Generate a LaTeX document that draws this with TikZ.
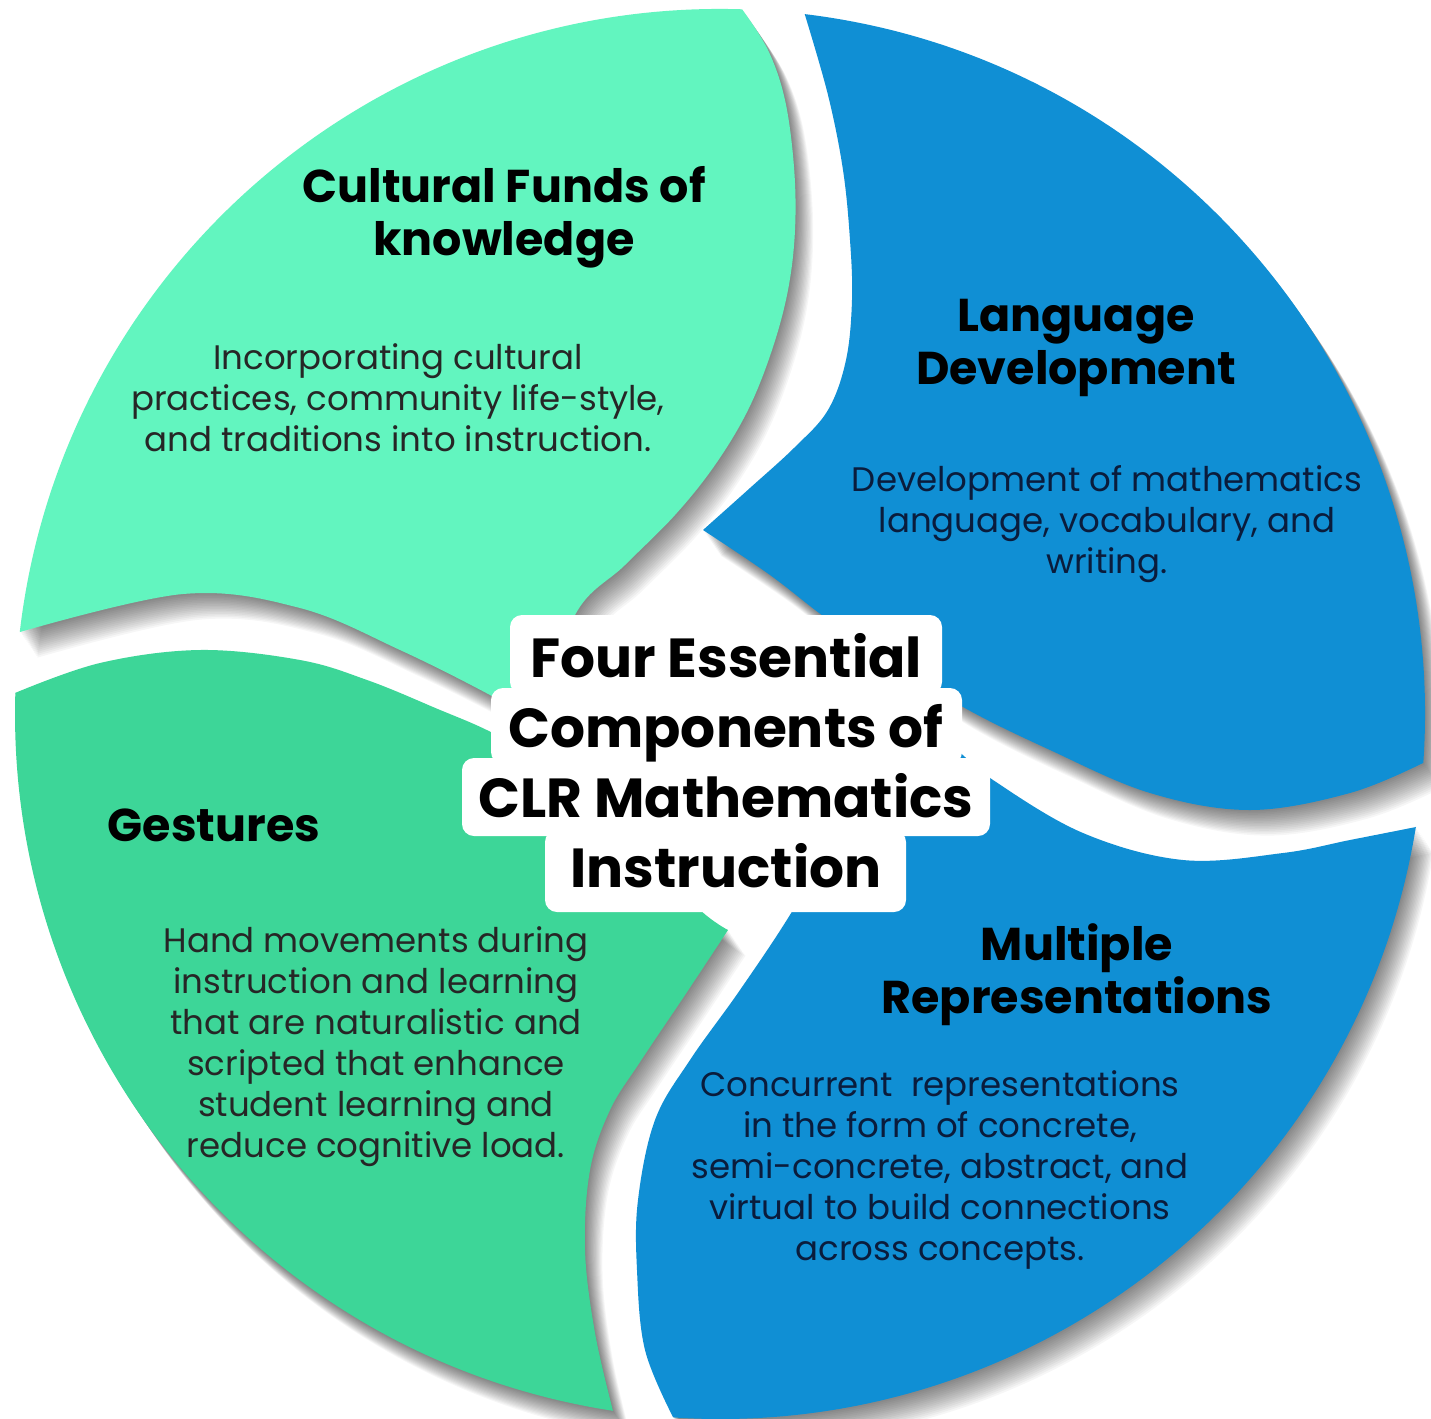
\documentclass[tikz,border=0pt]{standalone}
\usepackage{fontspec}
\setmainfont{Poppins}
\definecolor{tlgreen}{RGB}{98,245,191}
\definecolor{blgreen}{RGB}{61,214,152}
\definecolor{segblue}{RGB}{16,143,212}
\definecolor{navytext}{RGB}{10,28,60}
\def\pathTL{(742.1,9.3) arc[start angle=-88.2, end angle=-173.3, radius=705]
  -- plot[smooth, tension=0.6] coordinates {(20,632) (183,594) (300,608) (400,650) (490,695) (540,725)}
  -- plot[smooth, tension=0.6] coordinates {(540,725) (575,615) (625,565) (675,515) (715,465) (748,410) (772,350) (788,290) (795,230) (794,167) (785,100) (768,50) (742.1,9.3)}
  -- cycle}
\def\pathTR{(703,530)
  -- plot[smooth, tension=0.6] coordinates {(703,530) (750,488) (795,447) (828,410) (846,360) (852,300) (850,240) (843,170) (828,95) (804.7,14.1)}
  arc[start angle=-83.1, end angle=4.0, radius=705]
  -- plot[smooth, tension=0.6] coordinates {(1423,763) (1350,793) (1250,810) (1150,793) (1050,750) (963,707) (890,660) (826,618) (770,575) (703,530)}
  -- cycle}
\def\pathBL{([shift={(720,714)}]181.7:705) arc[start angle=181.7, end angle=98.7, radius=705]
  -- plot[smooth, tension=0.6] coordinates {(613,1411) (595,1333) (585,1250) (590,1170) (610,1110) (640,1062) (685,995) (728,930)}
  -- plot[smooth, tension=0.6] coordinates {(728,930) (700,910) (640,850) (560,780) (500,737) (433,707) (367,680) (300,660) (200,650) (100,663) (15,693)}
  -- cycle}
\def\pathBR{([shift={(720,714)}]9.2:705) arc[start angle=9.2, end angle=93.8, radius=705]
  -- plot[smooth, tension=0.6] coordinates {(673,1417) (645,1350) (637,1270) (638,1200) (655,1120) (690,1060) (740,990) (793,910) (850,810) (900,720)}
  -- plot[smooth, tension=0.6] coordinates {(900,720) (950,745) (993,780) (1083,833) (1183,860) (1283,853) (1350,840) (1416,827)}
  -- cycle}
\begin{document}
\begin{tikzpicture}[x=0.5pt,y=-0.5pt,
  shadowstep/.style={fill=black, opacity=0.034, shift={(1.1*#1,1.6*#1)}},
  body/.style={align=center, font=\fontsize{17}{20.5}\selectfont, inner sep=0pt},
  ttl/.style={align=center, font=\fontsize{23}{26.5}\selectfont\bfseries, inner sep=0pt},
  ctr/.style={align=center, font=\fontsize{27.5}{35}\selectfont\bfseries, inner sep=0pt},
  rowbox/.style={fill=white, rounded corners=6pt}]
\fill[white] (0,0) rectangle (1431,1419);
\useasboundingbox (0,0) rectangle (1431,1419);

% top-left segment
\foreach \k in {1,...,16} {\path[shadowstep=\k] \pathTL;}
\fill[tlgreen] \pathTL;
% top-right segment
\foreach \k in {1,...,16} {\path[shadowstep=\k] \pathTR;}
\fill[segblue] \pathTR;
% bottom-left segment
\foreach \k in {1,...,16} {\path[shadowstep=\k] \pathBL;}
\fill[blgreen] \pathBL;
% bottom-right segment
\foreach \k in {1,...,16} {\path[shadowstep=\k] \pathBR;}
\fill[segblue] \pathBR;

% centre label box
\fill[rowbox] (510,615) rectangle (942,694);
\fill[rowbox] (491,688) rectangle (962,764);
\fill[rowbox] (462,758) rectangle (990,836);
\fill[rowbox] (545,830) rectangle (906,912);

\node[ttl] (tlt) at (504,217) {Cultural Funds of\\knowledge};
\node[body, text=black!85] (tlb) at (398,398) {Incorporating cultural\\practices, community life-style,\\and traditions into instruction.};
\node[ttl] (trt) at (1076,348) {Language\\Development};
\node[body, text=navytext] (trb) at (1107,524) {Development of mathematics\\language, vocabulary, and\\writing.};
\node[ttl] (blt) at (214,825) {Gestures};
\node[body, text=black!85] (blb) at (376,1047) {Hand movements during\\instruction and learning\\that are naturalistic and\\scripted that enhance\\student learning and\\reduce cognitive load.};
\node[ttl] (brt) at (1077,975) {Multiple\\Representations};
\node[body, text=navytext] (brb) at (940,1170) {Concurrent\ \ representations\\in the form of concrete,\\semi-concrete, abstract, and\\virtual to build connections\\across concepts.};
\node[ctr] (ctrlabel) at (726,761) {Four Essential\\Components of\\CLR Mathematics\\Instruction};
\end{tikzpicture}
\end{document}
